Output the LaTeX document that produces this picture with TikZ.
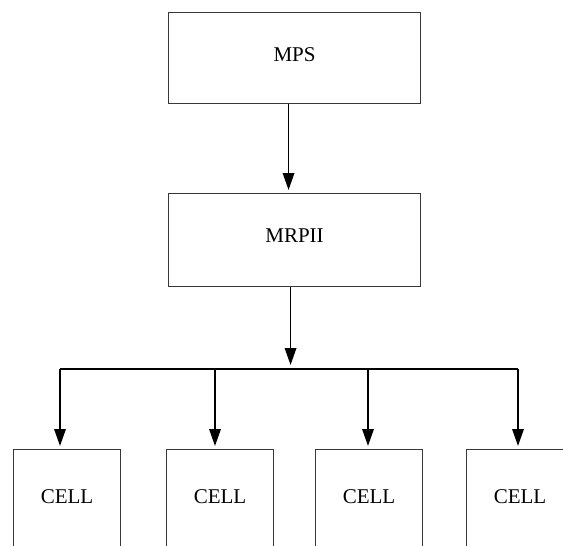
\documentclass[tikz,border=0pt]{standalone}
\usepackage{fontspec}
\setmainfont{Liberation Serif}
\usetikzlibrary{arrows.meta}
\begin{document}
\begin{tikzpicture}[x=1pt,y=-1pt,
  box/.style={draw=black!78,line width=1.1pt,inner sep=0pt,font=\fontsize{21}{21}\selectfont},
  link/.style={line width=1.7pt,black},
  arr/.style={link,-{Triangle[length=17pt,width=11.5pt]},shorten >=3pt}]
  \clip (0,0) rectangle (563,546);
  \fill[white] (0,0) rectangle (563,546);
  % upper planning levels
  \node[box,minimum width=252pt,text height=48.7pt,text depth=42.3pt,anchor=north west] (mps) at (168,12) {MPS\hspace{8pt}};
  \node[box,minimum width=252pt,text height=49.3pt,text depth=43.7pt,anchor=north west] (mrp) at (168,193) {MRPII\hspace{11pt}};
  % shop-floor cells, running past the lower edge
  \foreach \n/\x in {c1/13,c2/166,c3/315,c4/466}
    \node[box,minimum width=107pt,text height=54pt,text depth=97pt,anchor=north west] (\n) at (\x,449) {CELL\hspace{8pt}};
  % distribution bus
  \coordinate (b1) at (60,369);
  \coordinate (b2) at (215,369);
  \coordinate (b3) at (368,369);
  \coordinate (b4) at (518,369);
  \draw[arr] ([xshift=-6pt]mps.south) -- ([xshift=-6pt]mrp.north);
  \draw[arr] ([xshift=-4pt]mrp.south) -- ([xshift=-4pt,yshift=1pt]mrp.south |- b1);
  \draw[link,line width=1.3pt] (b1) -- (b4);
  \draw[arr] (b1) -- (b1 |- c1.north);
  \draw[arr] (b2) -- (b2 |- c2.north);
  \draw[arr] (b3) -- (b3 |- c3.north);
  \draw[arr] (b4) -- (b4 |- c4.north);
\end{tikzpicture}
\end{document}
